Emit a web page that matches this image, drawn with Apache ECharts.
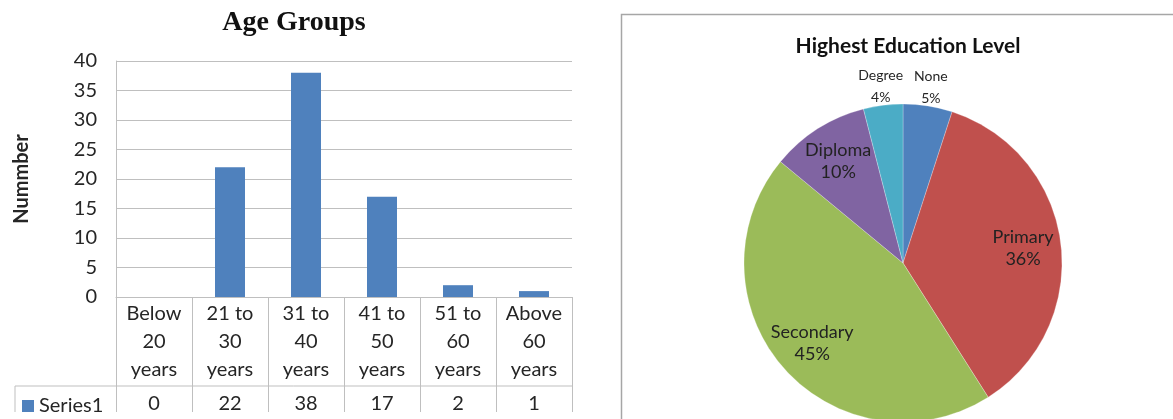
<!DOCTYPE html>
<html>
<head>
<meta charset="utf-8">
<script src="https://cdn.jsdelivr.net/npm/echarts@6/dist/echarts.min.js"></script>
<style>
html, body { margin: 0; padding: 0; background: #fff; }
#main { width: 1173px; height: 419px; }
</style>
</head>
<body>
<div id="main"></div>
<script>
// 年龄分组柱状图数据
var ageGroups = ['Below\n20\nyears', '21 to\n30\nyears', '31 to\n40\nyears', '41 to\n50\nyears', '51 to\n60\nyears', 'Above\n60\nyears']
var ageCounts = [0, 22, 38, 17, 2, 1]
var ageMin = 0, ageMax = 40, ageStep = 5

// 学历饼图数据
var eduLevels = ['None', 'Primary', 'Secondary', 'Diploma', 'Degree']
var eduShares = [5, 36, 45, 10, 4]
var eduColors = ['#4F81BD', '#C0504D', '#9BBB59', '#8064A2', '#4BACC6']
var outerLabels = ['None', 'Degree']

var txt = '#262626'
var grey = '#bfbfbf'
var pieCenter = [903, 263]

function pieLabelData(outer) {
    return eduLevels.map(function (name, i) {
        var isOuter = outerLabels.indexOf(name) >= 0
        return { name: name, value: eduShares[i], label: { show: isOuter === outer } }
    })
}

var option = {
    animation: false,
    textStyle: { fontFamily: 'Lato' },
    title: [
        {
            text: 'Age Groups',
            left: 289,
            top: 4,
            textAlign: 'center',
            textStyle: { fontFamily: 'Liberation Serif', fontWeight: 'bold', fontSize: 28, color: '#111' }
        },
        {
            text: 'Highest Education Level',
            left: 903,
            top: 31,
            textAlign: 'center',
            textStyle: { fontFamily: 'Lato', fontWeight: 'bold', fontSize: 21, color: '#111' }
        }
    ],
    legend: {
        data: ['Series1'],
        left: 17,
        top: 391,
        icon: 'rect',
        itemWidth: 12,
        itemHeight: 12,
        textStyle: { fontSize: 20, color: txt, fontFamily: 'Lato' }
    },
    grid: {
        left: 116,
        right: 601,
        top: 61,
        bottom: 122
    },
    xAxis: [
        {
            type: 'category',
            data: ageGroups,
            axisLine: { show: true, lineStyle: { color: grey } },
            axisTick: { show: true, interval: 0, length: 115, lineStyle: { color: grey } },
            axisLabel: { interval: 0, margin: 3, fontSize: 20, lineHeight: 28, color: txt }
        },
        {
            type: 'category',
            position: 'bottom',
            offset: 89,
            data: ageCounts.map(String),
            axisLine: { show: false },
            axisTick: { show: false },
            axisLabel: { interval: 0, margin: 8, fontSize: 20, color: txt }
        }
    ],
    yAxis: {
        type: 'value',
        min: ageMin,
        max: ageMax,
        interval: ageStep,
        name: 'Nummber',
        nameLocation: 'middle',
        nameRotate: 90,
        nameGap: 84,
        nameTextStyle: { fontWeight: 'bold', fontSize: 20, color: txt },
        axisLine: { show: true, lineStyle: { color: grey } },
        axisTick: { show: false },
        splitLine: { show: true, lineStyle: { color: grey } },
        axisLabel: { fontSize: 20, margin: 19, color: txt }
    },
    graphic: [
        {
            type: 'polyline',
            shape: { points: [[15, 412], [15, 386], [572, 386]] },
            style: { stroke: grey, lineWidth: 1, fill: null }
        },
        {
            type: 'rect',
            shape: { x: 621.5, y: 14.5, width: 600, height: 500 },
            style: { stroke: '#a6a6a6', lineWidth: 1.5, fill: null }
        }
    ],
    series: [
        {
            name: 'Series1',
            type: 'bar',
            data: ageCounts,
            barWidth: 30,
            itemStyle: { color: '#4F81BD' },
            silent: true
        },
        {
            name: 'edu',
            type: 'pie',
            center: pieCenter,
            radius: 159,
            startAngle: 90,
            clockwise: true,
            silent: true,
            data: eduLevels.map(function (name, i) {
                return { name: name, value: eduShares[i], itemStyle: { color: eduColors[i] } }
            }),
            itemStyle: { borderWidth: 0.5, borderColor: 'rgba(255,255,255,0.5)' },
            label: { show: false },
            labelLine: { show: false },
            emphasis: { disabled: true }
        },
        {
            // 饼图内部标签
            name: 'eduInner',
            type: 'pie',
            center: pieCenter,
            radius: [0, 236],
            startAngle: 90,
            silent: true,
            z: 5,
            data: pieLabelData(false),
            itemStyle: { color: 'transparent', borderWidth: 0 },
            label: { position: 'inside', formatter: '{b}\n{c}%', fontSize: 18, lineHeight: 22, color: '#222' },
            labelLine: { show: false },
            emphasis: { disabled: true }
        },
        {
            // 饼图外部标签
            name: 'eduOuter',
            type: 'pie',
            center: pieCenter,
            radius: [0, 350],
            startAngle: 90,
            silent: true,
            z: 5,
            data: pieLabelData(true),
            itemStyle: { color: 'transparent', borderWidth: 0 },
            label: { position: 'inside', formatter: '{b}\n{c}%', fontSize: 14, lineHeight: 22, color: txt },
            labelLine: { show: false },
            emphasis: { disabled: true }
        }
    ]
}

var chart = echarts.init(document.getElementById('main'))
chart.setOption(option)
</script>
</body>
</html>
